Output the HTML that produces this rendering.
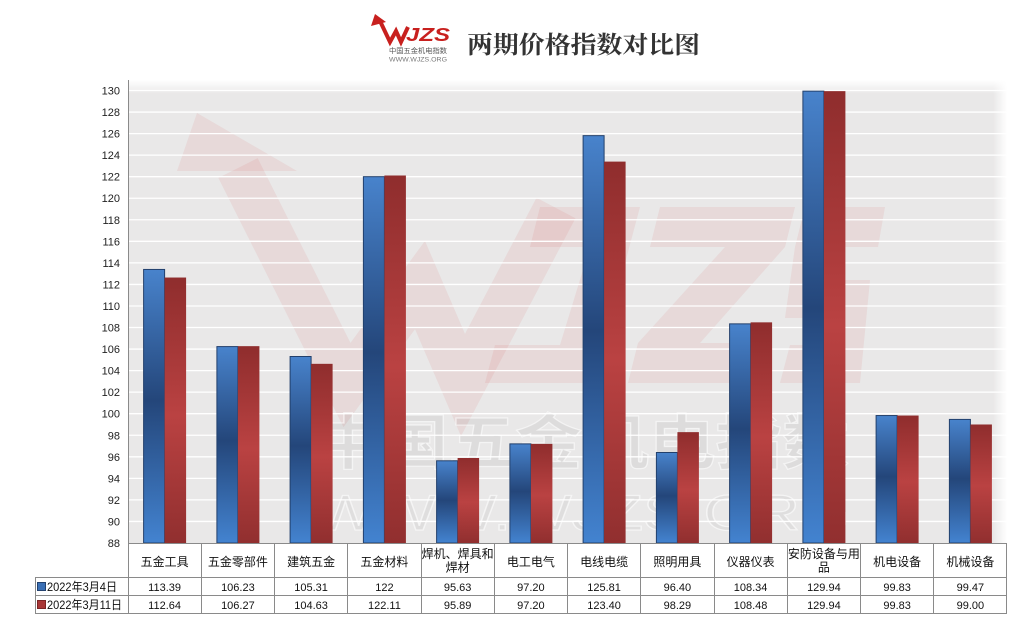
<!DOCTYPE html>
<html><head><meta charset="utf-8"><style>
html,body{margin:0;padding:0;background:#fff;width:1020px;height:631px;overflow:hidden}
svg{display:block}
.t{font-family:"Liberation Sans","Noto Sans CJK SC",sans-serif;}
</style></head><body>
<svg width="1020" height="631" viewBox="0 0 1020 631" xmlns="http://www.w3.org/2000/svg">
<defs>
<linearGradient id="gb" x1="0" y1="0" x2="0" y2="1">
<stop offset="0" stop-color="#4883cc"/><stop offset="0.48" stop-color="#24467a"/><stop offset="1" stop-color="#4383d0"/>
</linearGradient>
<linearGradient id="gr" x1="0" y1="0" x2="0" y2="1">
<stop offset="0" stop-color="#8f2d2d"/><stop offset="0.52" stop-color="#ba4242"/><stop offset="1" stop-color="#912f2f"/>
</linearGradient>
<linearGradient id="fadeT" x1="0" y1="0" x2="0" y2="1">
<stop offset="0" stop-color="#fff" stop-opacity="1"/><stop offset="1" stop-color="#fff" stop-opacity="0"/>
</linearGradient>
<linearGradient id="fadeR" x1="0" y1="0" x2="1" y2="0">
<stop offset="0" stop-color="#fff" stop-opacity="0"/><stop offset="1" stop-color="#fff" stop-opacity="1"/>
</linearGradient>
</defs>

<!-- Logo -->
<g>
<polygon points="375,14 371,26 386,22" fill="#c8201e"/>
<polyline points="380,21 390,42 396,31 401,42 408,27" fill="none" stroke="#c8201e" stroke-width="4" stroke-linejoin="miter"/>
<text x="406" y="41" font-family="Liberation Sans,sans-serif" font-weight="bold" font-style="italic" font-size="18" fill="#c8201e" textLength="44" lengthAdjust="spacingAndGlyphs">JZS</text>
<text x="389" y="53" font-family="Noto Sans CJK SC,sans-serif" font-size="7" fill="#555" textLength="58" lengthAdjust="spacingAndGlyphs">中国五金机电指数</text>
<text x="389" y="61.5" font-family="Liberation Sans,sans-serif" font-size="6" fill="#777" textLength="58" lengthAdjust="spacingAndGlyphs">WWW.WJZS.ORG</text>
</g>
<text x="467" y="53" font-family="Liberation Serif,Noto Serif CJK SC,serif" font-weight="bold" font-size="24" fill="#333" textLength="233" lengthAdjust="spacingAndGlyphs">两期价格指数对比图</text>

<!-- Plot background -->
<rect x="128" y="80" width="879" height="463" fill="#e9e8e8"/>

<!-- Watermark -->
<g fill="#d04040" fill-opacity="0.09">
<polygon points="197,113 177,171 297,171"/>
<polygon points="540,207 640,207 593,383 485,383 495,345 560,345 590,247 530,247"/>
<polygon points="660,207 795,207 785,247 700,343 770,343 760,383 628,383 638,343 725,247 650,247"/>
<polygon points="805,207 885,207 878,247 815,247 808,280 870,280 860,383 780,383 790,345 835,345 842,318 785,318 795,247"/>
</g>
<polyline points="238,168 347,385 420,285 463,385 556,208" fill="none" stroke="#d04040" stroke-opacity="0.09" stroke-width="44" stroke-linejoin="miter"/>
<text x="315" y="464" font-family="Noto Sans CJK SC,sans-serif" font-weight="bold" font-size="60" fill="#000" fill-opacity="0.05" stroke="#fff" stroke-opacity="0.6" stroke-width="1.2" textLength="534" lengthAdjust="spacingAndGlyphs">中国五金机电指数</text>
<text x="315" y="530" font-family="Liberation Sans,sans-serif" font-size="50" fill="#000" fill-opacity="0.04" stroke="#fff" stroke-opacity="0.6" stroke-width="1.2" textLength="535" lengthAdjust="spacingAndGlyphs">WWW.WJZS.ORG</text>

<!-- fades -->
<rect x="128" y="80" width="879" height="14" fill="url(#fadeT)"/>
<rect x="993" y="80" width="14" height="463" fill="url(#fadeR)"/>

<!-- Gridlines -->
<g stroke="#fff" stroke-width="1.3">
<line x1="128" x2="1007" y1="521.45" y2="521.45"/>
<line x1="128" x2="1007" y1="499.90" y2="499.90"/>
<line x1="128" x2="1007" y1="478.36" y2="478.36"/>
<line x1="128" x2="1007" y1="456.81" y2="456.81"/>
<line x1="128" x2="1007" y1="435.26" y2="435.26"/>
<line x1="128" x2="1007" y1="413.71" y2="413.71"/>
<line x1="128" x2="1007" y1="392.16" y2="392.16"/>
<line x1="128" x2="1007" y1="370.62" y2="370.62"/>
<line x1="128" x2="1007" y1="349.07" y2="349.07"/>
<line x1="128" x2="1007" y1="327.52" y2="327.52"/>
<line x1="128" x2="1007" y1="305.97" y2="305.97"/>
<line x1="128" x2="1007" y1="284.42" y2="284.42"/>
<line x1="128" x2="1007" y1="262.88" y2="262.88"/>
<line x1="128" x2="1007" y1="241.33" y2="241.33"/>
<line x1="128" x2="1007" y1="219.78" y2="219.78"/>
<line x1="128" x2="1007" y1="198.23" y2="198.23"/>
<line x1="128" x2="1007" y1="176.68" y2="176.68"/>
<line x1="128" x2="1007" y1="155.14" y2="155.14"/>
<line x1="128" x2="1007" y1="133.59" y2="133.59"/>
<line x1="128" x2="1007" y1="112.04" y2="112.04"/>
<line x1="128" x2="1007" y1="90.49" y2="90.49"/>
</g>

<!-- Y labels -->
<g class="t" font-size="11" fill="#222" text-anchor="end">
<text x="120" y="547">88</text>
<text x="120" y="525.5">90</text>
<text x="120" y="504">92</text>
<text x="120" y="482.4">94</text>
<text x="120" y="460.8">96</text>
<text x="120" y="439.3">98</text>
<text x="120" y="417.7">100</text>
<text x="120" y="396.2">102</text>
<text x="120" y="374.6">104</text>
<text x="120" y="353.1">106</text>
<text x="120" y="331.5">108</text>
<text x="120" y="310">110</text>
<text x="120" y="288.4">112</text>
<text x="120" y="266.9">114</text>
<text x="120" y="245.3">116</text>
<text x="120" y="223.8">118</text>
<text x="120" y="202.2">120</text>
<text x="120" y="180.7">122</text>
<text x="120" y="159.1">124</text>
<text x="120" y="137.6">126</text>
<text x="120" y="116">128</text>
<text x="120" y="94.5">130</text>
</g>

<!-- Blue bars -->
<g fill="url(#gb)" stroke="#22406c" stroke-width="1">
<rect x="143.6" y="269.45" width="21" height="273.55"/>
<rect x="216.9" y="346.59" width="21" height="196.41"/>
<rect x="290.1" y="356.50" width="21" height="186.50"/>
<rect x="363.4" y="176.68" width="21" height="366.32"/>
<rect x="436.6" y="460.79" width="21" height="82.21"/>
<rect x="509.9" y="443.88" width="21" height="99.12"/>
<rect x="583.1" y="135.64" width="21" height="407.36"/>
<rect x="656.4" y="452.50" width="21" height="90.50"/>
<rect x="729.6" y="323.86" width="21" height="219.14"/>
<rect x="802.9" y="91.14" width="21" height="451.86"/>
<rect x="876.1" y="415.54" width="21" height="127.46"/>
<rect x="949.4" y="419.42" width="21" height="123.58"/>
</g>
<!-- Red bars -->
<g fill="url(#gr)">
<rect x="164.6" y="277.53" width="21.5" height="265.47"/>
<rect x="237.9" y="346.16" width="21.5" height="196.84"/>
<rect x="311.1" y="363.83" width="21.5" height="179.17"/>
<rect x="384.4" y="175.50" width="21.5" height="367.50"/>
<rect x="457.6" y="457.99" width="21.5" height="85.01"/>
<rect x="530.9" y="443.88" width="21.5" height="99.12"/>
<rect x="604.1" y="161.60" width="21.5" height="381.40"/>
<rect x="677.4" y="432.14" width="21.5" height="110.86"/>
<rect x="750.6" y="322.35" width="21.5" height="220.65"/>
<rect x="823.9" y="91.14" width="21.5" height="451.86"/>
<rect x="897.1" y="415.54" width="21.5" height="127.46"/>
<rect x="970.4" y="424.49" width="21.5" height="118.51"/>
</g>

<!-- Axis & table lines -->
<g stroke="#8a8a8a" stroke-width="1" fill="none">
<line x1="128.5" y1="80" x2="128.5" y2="613.5"/>
<line x1="128" y1="543.5" x2="1007" y2="543.5"/>
<line x1="35" y1="577.5" x2="1007" y2="577.5"/>
<line x1="35" y1="595.5" x2="1007" y2="595.5"/>
<line x1="35" y1="613.5" x2="1007" y2="613.5"/>
<line x1="35.5" y1="577" x2="35.5" y2="614"/>
<line x1="201.5" y1="543" x2="201.5" y2="614"/>
<line x1="274.5" y1="543" x2="274.5" y2="614"/>
<line x1="347.5" y1="543" x2="347.5" y2="614"/>
<line x1="421.5" y1="543" x2="421.5" y2="614"/>
<line x1="494.5" y1="543" x2="494.5" y2="614"/>
<line x1="567.5" y1="543" x2="567.5" y2="614"/>
<line x1="640.5" y1="543" x2="640.5" y2="614"/>
<line x1="714.5" y1="543" x2="714.5" y2="614"/>
<line x1="787.5" y1="543" x2="787.5" y2="614"/>
<line x1="860.5" y1="543" x2="860.5" y2="614"/>
<line x1="933.5" y1="543" x2="933.5" y2="614"/>
<line x1="1006.5" y1="543" x2="1006.5" y2="614"/>
</g>

<!-- Category labels -->
<g class="t" font-size="12" fill="#111" text-anchor="middle">
<text x="164.6" y="566">五金工具</text>
<text x="237.9" y="566">五金零部件</text>
<text x="311.1" y="566">建筑五金</text>
<text x="384.4" y="566">五金材料</text>
<text x="457.6" y="558">焊机、焊具和</text>
<text x="457.6" y="571.5">焊材</text>
<text x="530.9" y="566">电工电气</text>
<text x="604.1" y="566">电线电缆</text>
<text x="677.4" y="566">照明用具</text>
<text x="750.6" y="566">仪器仪表</text>
<text x="823.9" y="558">安防设备与用</text>
<text x="823.9" y="571.5">品</text>
<text x="897.1" y="566">机电设备</text>
<text x="970.4" y="566">机械设备</text>
</g>

<!-- Legend -->
<rect x="37.5" y="582.5" width="8" height="8" fill="#3a6fb5" stroke="#23416e"/>
<rect x="37.5" y="600.5" width="8" height="8" fill="#a83636" stroke="#7a2424"/>
<g class="t" font-size="12" fill="#111">
<text x="47" y="591" textLength="70" lengthAdjust="spacingAndGlyphs">2022年3月4日</text>
<text x="47" y="609" textLength="75" lengthAdjust="spacingAndGlyphs">2022年3月11日</text>
</g>

<!-- Values -->
<g class="t" font-size="11" fill="#111" text-anchor="middle">
<text x="164.6" y="591">113.39</text>
<text x="237.9" y="591">106.23</text>
<text x="311.1" y="591">105.31</text>
<text x="384.4" y="591">122</text>
<text x="457.6" y="591">95.63</text>
<text x="530.9" y="591">97.20</text>
<text x="604.1" y="591">125.81</text>
<text x="677.4" y="591">96.40</text>
<text x="750.6" y="591">108.34</text>
<text x="823.9" y="591">129.94</text>
<text x="897.1" y="591">99.83</text>
<text x="970.4" y="591">99.47</text>
<text x="164.6" y="609">112.64</text>
<text x="237.9" y="609">106.27</text>
<text x="311.1" y="609">104.63</text>
<text x="384.4" y="609">122.11</text>
<text x="457.6" y="609">95.89</text>
<text x="530.9" y="609">97.20</text>
<text x="604.1" y="609">123.40</text>
<text x="677.4" y="609">98.29</text>
<text x="750.6" y="609">108.48</text>
<text x="823.9" y="609">129.94</text>
<text x="897.1" y="609">99.83</text>
<text x="970.4" y="609">99.00</text>
</g>
</svg>
</body></html>
